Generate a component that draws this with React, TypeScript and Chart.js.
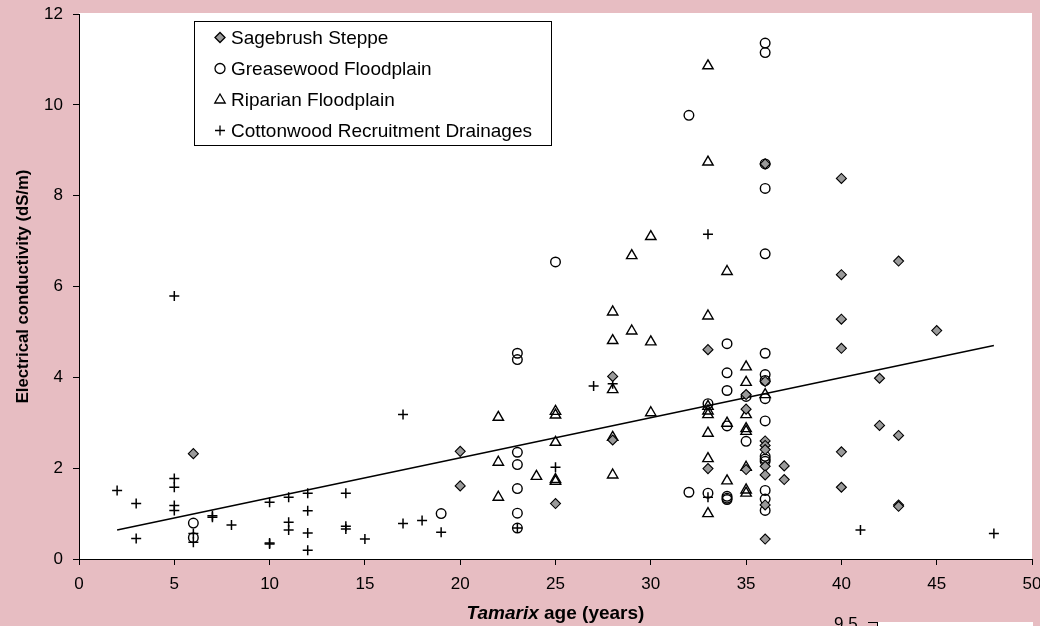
import React, { useEffect, useRef } from 'react';
import { Chart, registerables } from 'chart.js';

Chart.register(...registerables);

// ---- data ----
const xTicks = [0, 5, 10, 15, 20, 25, 30, 35, 40, 45, 50];
const yTicks = [0, 2, 4, 6, 8, 10, 12];

const seriesNames = [
  'Sagebrush Steppe',
  'Greasewood Floodplain',
  'Riparian Floodplain',
  'Cottonwood Recruitment Drainages',
];

const sagebrushAge = [6, 20, 20, 25, 28, 28, 33, 33, 35, 35, 35, 36, 36, 36, 36, 36, 36, 36, 36, 36, 37, 37, 40, 40, 40, 40, 40, 40, 42, 42, 43, 43, 43, 43, 45];
const sagebrushEC = [2.32, 2.37, 1.61, 1.22, 4.02, 2.62, 4.61, 1.99, 3.62, 3.30, 1.97, 8.70, 3.91, 2.60, 2.50, 2.41, 2.04, 1.85, 1.19, 0.44, 2.05, 1.75, 8.38, 6.26, 5.28, 4.64, 2.36, 1.58, 3.98, 2.94, 6.56, 2.72, 1.19, 1.16, 5.03];

const greasewoodAge = [6, 6, 19, 23, 23, 23, 23, 23, 23, 23, 25, 32, 32, 33, 33, 34, 34, 34, 34, 34, 34, 34, 35, 35, 36, 36, 36, 36, 36, 36, 36, 36, 36, 36, 36, 36, 36, 36, 36, 36];
const greasewoodEC = [0.79, 0.47, 1.00, 4.53, 4.39, 2.35, 2.08, 1.55, 1.01, 0.68, 6.54, 9.77, 1.47, 3.42, 1.45, 4.74, 4.10, 3.71, 2.93, 1.38, 1.34, 1.31, 3.58, 2.59, 11.36, 11.15, 8.70, 8.16, 6.72, 4.53, 4.06, 3.93, 3.53, 3.04, 2.26, 2.20, 2.15, 1.51, 1.32, 1.07];

const riparianAge = [22, 22, 22, 24, 25, 25, 25, 25, 25, 28, 28, 28, 28, 28, 29, 29, 30, 30, 30, 33, 33, 33, 33, 33, 33, 33, 33, 33, 34, 34, 34, 35, 35, 35, 35, 35, 35, 35, 35, 36];
const riparianEC = [3.12, 2.13, 1.36, 1.82, 3.25, 3.17, 2.57, 1.75, 1.71, 5.44, 4.81, 3.73, 2.68, 1.85, 6.68, 5.02, 7.10, 4.78, 3.22, 10.86, 8.74, 5.35, 3.36, 3.26, 3.18, 2.77, 2.21, 1.00, 6.33, 2.99, 1.72, 4.23, 3.89, 3.18, 2.87, 2.81, 2.02, 1.52, 1.45, 3.62];

const cottonwoodAge = [2, 3, 3, 5, 5, 5, 5, 5, 6, 6, 7, 7, 8, 10, 10, 10, 11, 11, 11, 12, 12, 12, 12, 14, 14, 14, 15, 17, 17, 18, 19, 23, 25, 27, 28, 33, 33, 41, 48];
const cottonwoodEC = [1.51, 1.22, 0.45, 5.79, 1.77, 1.58, 1.18, 1.07, 0.56, 0.37, 0.95, 0.92, 0.75, 1.25, 0.35, 0.33, 1.36, 0.81, 0.64, 1.45, 1.06, 0.57, 0.19, 1.45, 0.72, 0.66, 0.44, 3.18, 0.78, 0.85, 0.59, 0.68, 2.02, 3.81, 3.86, 7.15, 1.36, 0.64, 0.56];

const trendAge = [2, 48];
const trendEC = [0.64, 4.70];

// ---- helpers ----
const toPoints = (xs: number[], ys: number[]) => xs.map((x, i) => ({ x, y: ys[i] }));

const FONT = "'Liberation Sans', Arial, Helvetica, sans-serif";

function drawMarker(ctx: CanvasRenderingContext2D, style: string, x: number, y: number, r: number, fill: string, lw: number) {
  ctx.save();
  ctx.strokeStyle = '#000';
  ctx.lineWidth = lw;
  ctx.fillStyle = fill;
  ctx.beginPath();
  if (style === 'rectRot') {
    ctx.moveTo(x - r, y);
    ctx.lineTo(x, y - r);
    ctx.lineTo(x + r, y);
    ctx.lineTo(x, y + r);
    ctx.closePath();
    ctx.fill();
    ctx.stroke();
  } else if (style === 'circle') {
    ctx.arc(x, y, r, 0, Math.PI * 2);
    ctx.stroke();
  } else if (style === 'triangle') {
    const h = r * 1.5;
    ctx.moveTo(x, y - h / 2 - 1);
    ctx.lineTo(x + r * 0.87, y + h / 2 - 1);
    ctx.lineTo(x - r * 0.87, y + h / 2 - 1);
    ctx.closePath();
    ctx.stroke();
  } else if (style === 'cross') {
    ctx.moveTo(x - r, y);
    ctx.lineTo(x + r, y);
    ctx.moveTo(x, y - r);
    ctx.lineTo(x, y + r);
    ctx.stroke();
  }
  ctx.restore();
}

const plotBgPlugin = {
  id: 'plotBg',
  beforeDraw(chart: any) {
    const { ctx, chartArea } = chart;
    ctx.save();
    ctx.fillStyle = '#ffffff';
    ctx.fillRect(chartArea.left, chartArea.top - 1, chartArea.right - chartArea.left, chartArea.bottom - chartArea.top + 1);
    ctx.restore();
  },
};

const boxLegendPlugin = {
  id: 'boxLegend',
  afterDraw(chart: any) {
    const ctx: CanvasRenderingContext2D = chart.ctx;
    const left = 194.5, top = 21.5, w = 357, h = 124;
    ctx.save();
    ctx.fillStyle = '#fff';
    ctx.fillRect(left, top, w, h);
    ctx.strokeStyle = '#000';
    ctx.lineWidth = 1;
    ctx.strokeRect(left, top, w, h);
    ctx.font = `19px ${FONT}`;
    ctx.fillStyle = '#000';
    ctx.textBaseline = 'middle';
    ctx.textAlign = 'left';
    const rows = chart.data.datasets.filter((d: any) => !d.isTrend);
    rows.forEach((d: any, i: number) => {
      const cy = 37.5 + i * 31;
      const style = d.pointStyle;
      const r = style === 'triangle' ? 6 : 5;
      drawMarker(ctx, style, 220, cy, r, d.backgroundColor, 1.3);
      ctx.fillText(d.label, 231, cy + 1);
    });
    ctx.restore();
  },
};

const xTitlePlugin = {
  id: 'xTitle',
  afterDraw(chart: any) {
    const ctx: CanvasRenderingContext2D = chart.ctx;
    const { chartArea } = chart;
    const cx = (chartArea.left + chartArea.right) / 2;
    ctx.save();
    ctx.fillStyle = '#000';
    ctx.textBaseline = 'alphabetic';
    ctx.textAlign = 'left';
    const f1 = `italic bold 19px ${FONT}`;
    const f2 = `bold 19px ${FONT}`;
    const t1 = 'Tamarix';
    const t2 = ' age (years)';
    ctx.font = f1;
    const w1 = ctx.measureText(t1).width;
    ctx.font = f2;
    const w2 = ctx.measureText(t2).width;
    const x0 = cx - (w1 + w2) / 2;
    const y = 618.5;
    ctx.font = f1;
    ctx.fillText(t1, x0, y);
    ctx.font = f2;
    ctx.fillText(t2, x0 + w1, y);
    ctx.restore();
  },
};

export default function App() {
  const ref = useRef<HTMLCanvasElement | null>(null);

  useEffect(() => {
    if (!ref.current) return;
    const axisCommon = {
      grid: {
        display: true,
        drawOnChartArea: false,
        drawTicks: true,
        tickLength: 6,
        color: '#000',
        lineWidth: 1,
      },
      border: { display: true, color: '#000', width: 1 },
    };
    const chart = new Chart(ref.current, {
      type: 'scatter',
      data: {
        datasets: [
          {
            label: seriesNames[0],
            data: toPoints(sagebrushAge, sagebrushEC),
            pointStyle: 'rectRot',
            pointRadius: 5,
            backgroundColor: '#9a9a9a',
            borderColor: '#000',
            borderWidth: 1.1,
          },
          {
            label: seriesNames[1],
            data: toPoints(greasewoodAge, greasewoodEC),
            pointStyle: 'circle',
            pointRadius: 4.8,
            backgroundColor: 'rgba(0,0,0,0)',
            borderColor: '#000',
            borderWidth: 1.4,
          },
          {
            label: seriesNames[2],
            data: toPoints(riparianAge, riparianEC),
            pointStyle: 'triangle',
            pointRadius: 6,
            backgroundColor: 'rgba(0,0,0,0)',
            borderColor: '#000',
            borderWidth: 1.4,
          },
          {
            label: seriesNames[3],
            data: toPoints(cottonwoodAge, cottonwoodEC),
            pointStyle: 'cross',
            pointRadius: 5,
            backgroundColor: 'rgba(0,0,0,0)',
            borderColor: '#000',
            borderWidth: 1.5,
          },
          {
            label: 'trend',
            isTrend: true,
            data: toPoints(trendAge, trendEC),
            showLine: true,
            pointRadius: 0,
            borderColor: '#000',
            borderWidth: 1.5,
            backgroundColor: '#000',
          } as any,
        ],
      },
      options: {
        animation: false,
        responsive: false,
        devicePixelRatio: 1,
        events: [],
        layout: { padding: { left: 0, right: 8, top: 14, bottom: 0 } },
        plugins: {
          legend: { display: false },
          tooltip: { enabled: false },
        },
        scales: {
          x: {
            type: 'linear',
            min: xTicks[0],
            max: xTicks[xTicks.length - 1],
            afterBuildTicks: (scale: any) => {
              scale.ticks = xTicks.map((v) => ({ value: v }));
            },
            ticks: {
              color: '#000',
              font: { family: FONT, size: 17 },
              padding: 9,
              maxRotation: 0,
              autoSkip: false,
            },
            afterFit: (scale: any) => {
              scale.height = 67;
              scale.paddingLeft = 0;
              scale.paddingRight = 0;
            },
            ...axisCommon,
          },
          y: {
            type: 'linear',
            min: yTicks[0],
            max: yTicks[yTicks.length - 1],
            afterBuildTicks: (scale: any) => {
              scale.ticks = yTicks.map((v) => ({ value: v }));
            },
            ticks: {
              color: '#000',
              font: { family: FONT, size: 17 },
              padding: 10,
              autoSkip: false,
            },
            title: {
              display: true,
              text: 'Electrical conductivity (dS/m)',
              color: '#000',
              font: { family: FONT, size: 16.7, weight: 'bold' },
              padding: { top: 13, bottom: 0 },
            },
            afterFit: (scale: any) => {
              scale.width = 79;
              scale.paddingTop = 0;
              scale.paddingBottom = 0;
            },
            ...axisCommon,
          },
        },
      } as any,
      plugins: [plotBgPlugin, boxLegendPlugin, xTitlePlugin],
    });
    return () => chart.destroy();
  }, []);

  return (
    <div
      style={{
        position: 'fixed',
        left: 0,
        top: 0,
        width: 1040,
        height: 626,
        overflow: 'hidden',
        background: '#e7bdc2',
      }}
    >
      <canvas ref={ref} width={1040} height={626} style={{ display: 'block', position: 'absolute', left: 0, top: 0 }} />
      <div
        style={{
          position: 'absolute',
          left: 834,
          top: 615,
          fontFamily: FONT,
          fontSize: 17,
          lineHeight: '17px',
          color: '#000',
        }}
      >
        9.5
      </div>
      <div style={{ position: 'absolute', left: 868, top: 622, width: 9, height: 1, background: '#000' }} />
      <div style={{ position: 'absolute', left: 877, top: 622, width: 155, height: 4, background: '#fff', borderLeft: '1px solid #000' }} />
    </div>
  );
}
